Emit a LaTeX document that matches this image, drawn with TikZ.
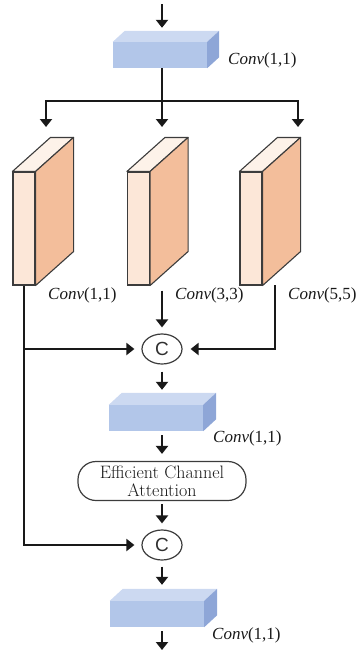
\documentclass[tikz,border=0pt]{standalone}
\usepackage{fontspec}
\newfontfamily\tms{Liberation Serif}
\newfontfamily\arl{Liberation Sans}
\usetikzlibrary{arrows.meta,shapes.geometric}

\definecolor{bfront}{RGB}{178,198,233}
\definecolor{btop}{RGB}{204,217,241}
\definecolor{bside}{RGB}{142,166,215}
\definecolor{sfront}{RGB}{252,231,216}
\definecolor{sside}{RGB}{243,190,155}
\definecolor{stop}{RGB}{253,242,233}
\definecolor{ink}{RGB}{25,25,25}

% side and top faces of a block whose front face is node #1, depth (#2,#3)
\newcommand\blockfaces[3]{%
  \fill[btop] (#1.north west) -- ++(#2,-#3) -- ([shift={(#2,-#3)}]#1.north east) -- (#1.north east) -- cycle;
  \fill[bside] (#1.north east) -- ++(#2,-#3) -- ([shift={(#2,-#3)}]#1.south east) -- (#1.south east) -- cycle;
}
\newcommand\slabfaces[1]{%
  \filldraw[stop, draw=ink!85, line width=1.1pt, line join=round] (#1.north west) -- ++(38,-34) -- ([shift={(38,-34)}]#1.north east) -- (#1.north east) -- cycle;
  \filldraw[sside, draw=ink!85, line width=1.1pt, line join=round] (#1.north east) -- ++(38,-34) -- ([shift={(38,-34)}]#1.south east) -- (#1.south east) -- cycle;
}

\begin{document}
\begin{tikzpicture}[x=1pt,y=-1pt,
  ln/.style={draw=ink, line width=2.5pt},
  arr/.style={ln, -{Triangle[width=12pt,length=8pt]}},
  blk/.style={fill=bfront, minimum width=94pt, minimum height=26pt, inner sep=0pt},
  slab/.style={fill=sfront, draw=ink!85, line width=1.1pt, minimum width=22pt, minimum height=113pt, inner sep=0pt},
  cat/.style={ellipse, draw=ink!85, line width=1.2pt, minimum width=40pt, minimum height=30pt, inner sep=0pt,
    font=\arl\fontsize{19}{19}\selectfont, text=ink!90},
  lbl/.style={anchor=west, inner sep=0pt, text=ink, font=\tms\fontsize{17}{17}\selectfont},
  ecabox/.style={draw=ink!85, line width=1.2pt, rounded corners=18pt, minimum width=168pt, minimum height=39pt,
    inner sep=0pt, align=center, text=ink, font=\fontsize{18}{18}\selectfont}]
\useasboundingbox (0,0) rectangle (357,651);

% blue 1x1 convolution blocks
\node[blk] (b1) at (160,55) {};
\blockfaces{b1}{12}{11}
\node[blk] (b2) at (156,418) {};
\blockfaces{b2}{13}{12}
\node[blk] (b3) at (157,614) {};
\blockfaces{b3}{13}{12}

% three parallel convolution branches
\node[slab] (s1) at (24,228.5) {};
\slabfaces{s1}
\node[slab] (s2) at (138.5,228.5) {};
\slabfaces{s2}
\node[slab] (s3) at (251,228.5) {};
\slabfaces{s3}

% concatenation and attention
\node[cat] (c1) at (162,349) {C};
\node[cat] (c2) at (162,545) {C};
\node[ecabox] (eca) at (162,481) {Efficient Channel\\Attention};

% labels
\node[lbl] at (228,60) {\textit{Conv}(1,1)};
\node[lbl] at (48,295) {\textit{Conv}(1,1)};
\node[lbl] at (175,295) {\textit{Conv}(3,3)};
\node[lbl] at (288,295) {\textit{Conv}(5,5)};
\node[lbl] at (213,438) {\textit{Conv}(1,1)};
\node[lbl] at (212,635) {\textit{Conv}(1,1)};

% connectors
\coordinate (in) at (162,4);
\coordinate (fork) at (162,101);
\coordinate (t1) at (46,127);
\coordinate (t2) at (162,127);
\coordinate (t3) at (298,127);
\coordinate (r3) at (275,285);
\coordinate (out) at (162,650);

\draw[arr, shorten >=14pt] (in) -- (in |- b1.north);
\draw[ln] (fork |- b1.south) -- (fork);
\draw[arr, line join=miter] (fork) -| (t1);
\draw[arr] (fork) -- (t2);
\draw[arr, line join=miter] (fork) -| (t3);

\draw[arr, shorten >=7pt, line join=miter] (s1.south) |- (c2.west);
\draw[arr, shorten >=7pt] (s1.south |- c1.west) -- (c1.west);
\draw[arr, shorten >=6pt] (c1.north |- s2.south) ++(0,5) -- (c1.north);
\draw[arr, shorten >=8pt, line join=miter] (r3) |- (c1.east);

\draw[arr, shorten <=7pt, shorten >=15pt] (c1.south) -- (c1.south |- b2.north);
\draw[arr, shorten <=4pt, shorten >=7pt] (b2.south -| eca.north) -- (eca.north);
\draw[arr, shorten <=3pt, shorten >=6pt] (eca.south) -- (c2.north);
\draw[arr, shorten <=6pt, shorten >=16pt] (c2.south) -- (c2.south |- b3.north);
\draw[arr, shorten <=4pt] (b3.south -| out) -- (out);
\end{tikzpicture}
\end{document}
